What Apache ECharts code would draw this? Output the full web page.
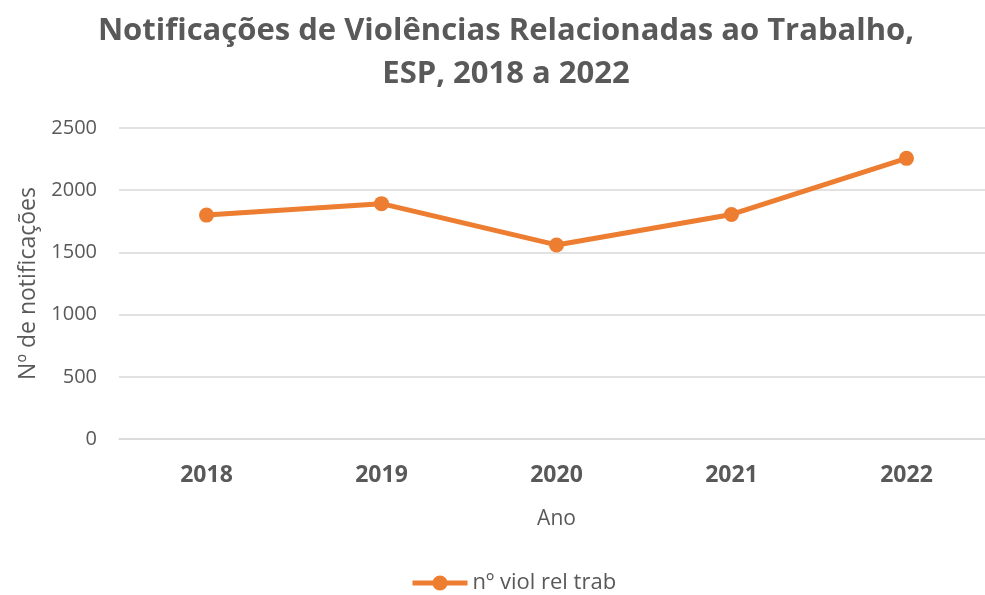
<!DOCTYPE html>
<html><head><meta charset="utf-8">
<script src="https://cdn.jsdelivr.net/npm/echarts@6/dist/echarts.min.js"></script>
<style>html,body{margin:0;padding:0;background:#fff}#c{width:985px;height:595px}</style>
</head><body><div id="c"></div>
<script>
const categories = ['2018', '2019', '2020', '2021', '2022'];
const values = [1800, 1892, 1560, 1805, 2256];
const yTicks = [0, 500, 1000, 1500, 2000, 2500];
const seriesName = 'nº viol rel trab';
const FONT = 'Open Sans';
const chart = echarts.init(document.getElementById('c'), null, {renderer: 'canvas'});
chart.setOption({
  backgroundColor: '#fff',
  animation: false,
  title: {
    text: 'Notificações de Violências Relacionadas ao Trabalho,\nESP, 2018 a 2022',
    left: 501, top: 5, textAlign: 'center',
    textStyle: {fontFamily: FONT, fontWeight: 'bold', fontSize: 31, color: '#595959', lineHeight: 43}
  },
  legend: {
    top: 572, left: 410, padding: 0,
    itemWidth: 55, itemHeight: 19, itemGap: 5,
    lineStyle: {width: 5, color: '#ED7D31'},
    textStyle: {fontFamily: FONT, fontSize: 22, color: '#595959', padding: [0, 0, 0, 0]},
    data: [seriesName]
  },
  grid: {left: 119, top: 128, width: 875, height: 311, containLabel: false, outerBoundsMode: 'none'},
  xAxis: {
    type: 'category', data: categories, boundaryGap: true,
    name: 'Ano', nameLocation: 'middle', nameGap: 70,
    nameTextStyle: {fontFamily: FONT, fontSize: 21, color: '#595959'},
    axisLine: {show: true, lineStyle: {color: '#d9d9d9', width: 1.5}},
    axisTick: {show: false},
    axisLabel: {fontFamily: FONT, fontWeight: 'bold', fontSize: 23, color: '#595959', margin: 25}
  },
  yAxis: {
    type: 'value', min: yTicks[0], max: yTicks[yTicks.length - 1], interval: 500,
    name: 'Nº de notificações', nameLocation: 'middle', nameGap: 76, nameRotate: 90,
    nameTextStyle: {fontFamily: FONT, fontSize: 23, color: '#595959'},
    axisLine: {show: false}, axisTick: {show: false},
    axisLabel: {fontFamily: FONT, fontSize: 20, color: '#595959', margin: 22, formatter: v => String(v)},
    splitLine: {lineStyle: {color: '#d9d9d9', width: 1.5}}
  },
  series: [{
    name: seriesName, type: 'line', data: values,
    symbol: 'circle', symbolSize: 15,
    lineStyle: {color: '#ED7D31', width: 5},
    itemStyle: {color: '#ED7D31'}
  }]
});
</script></body></html>
